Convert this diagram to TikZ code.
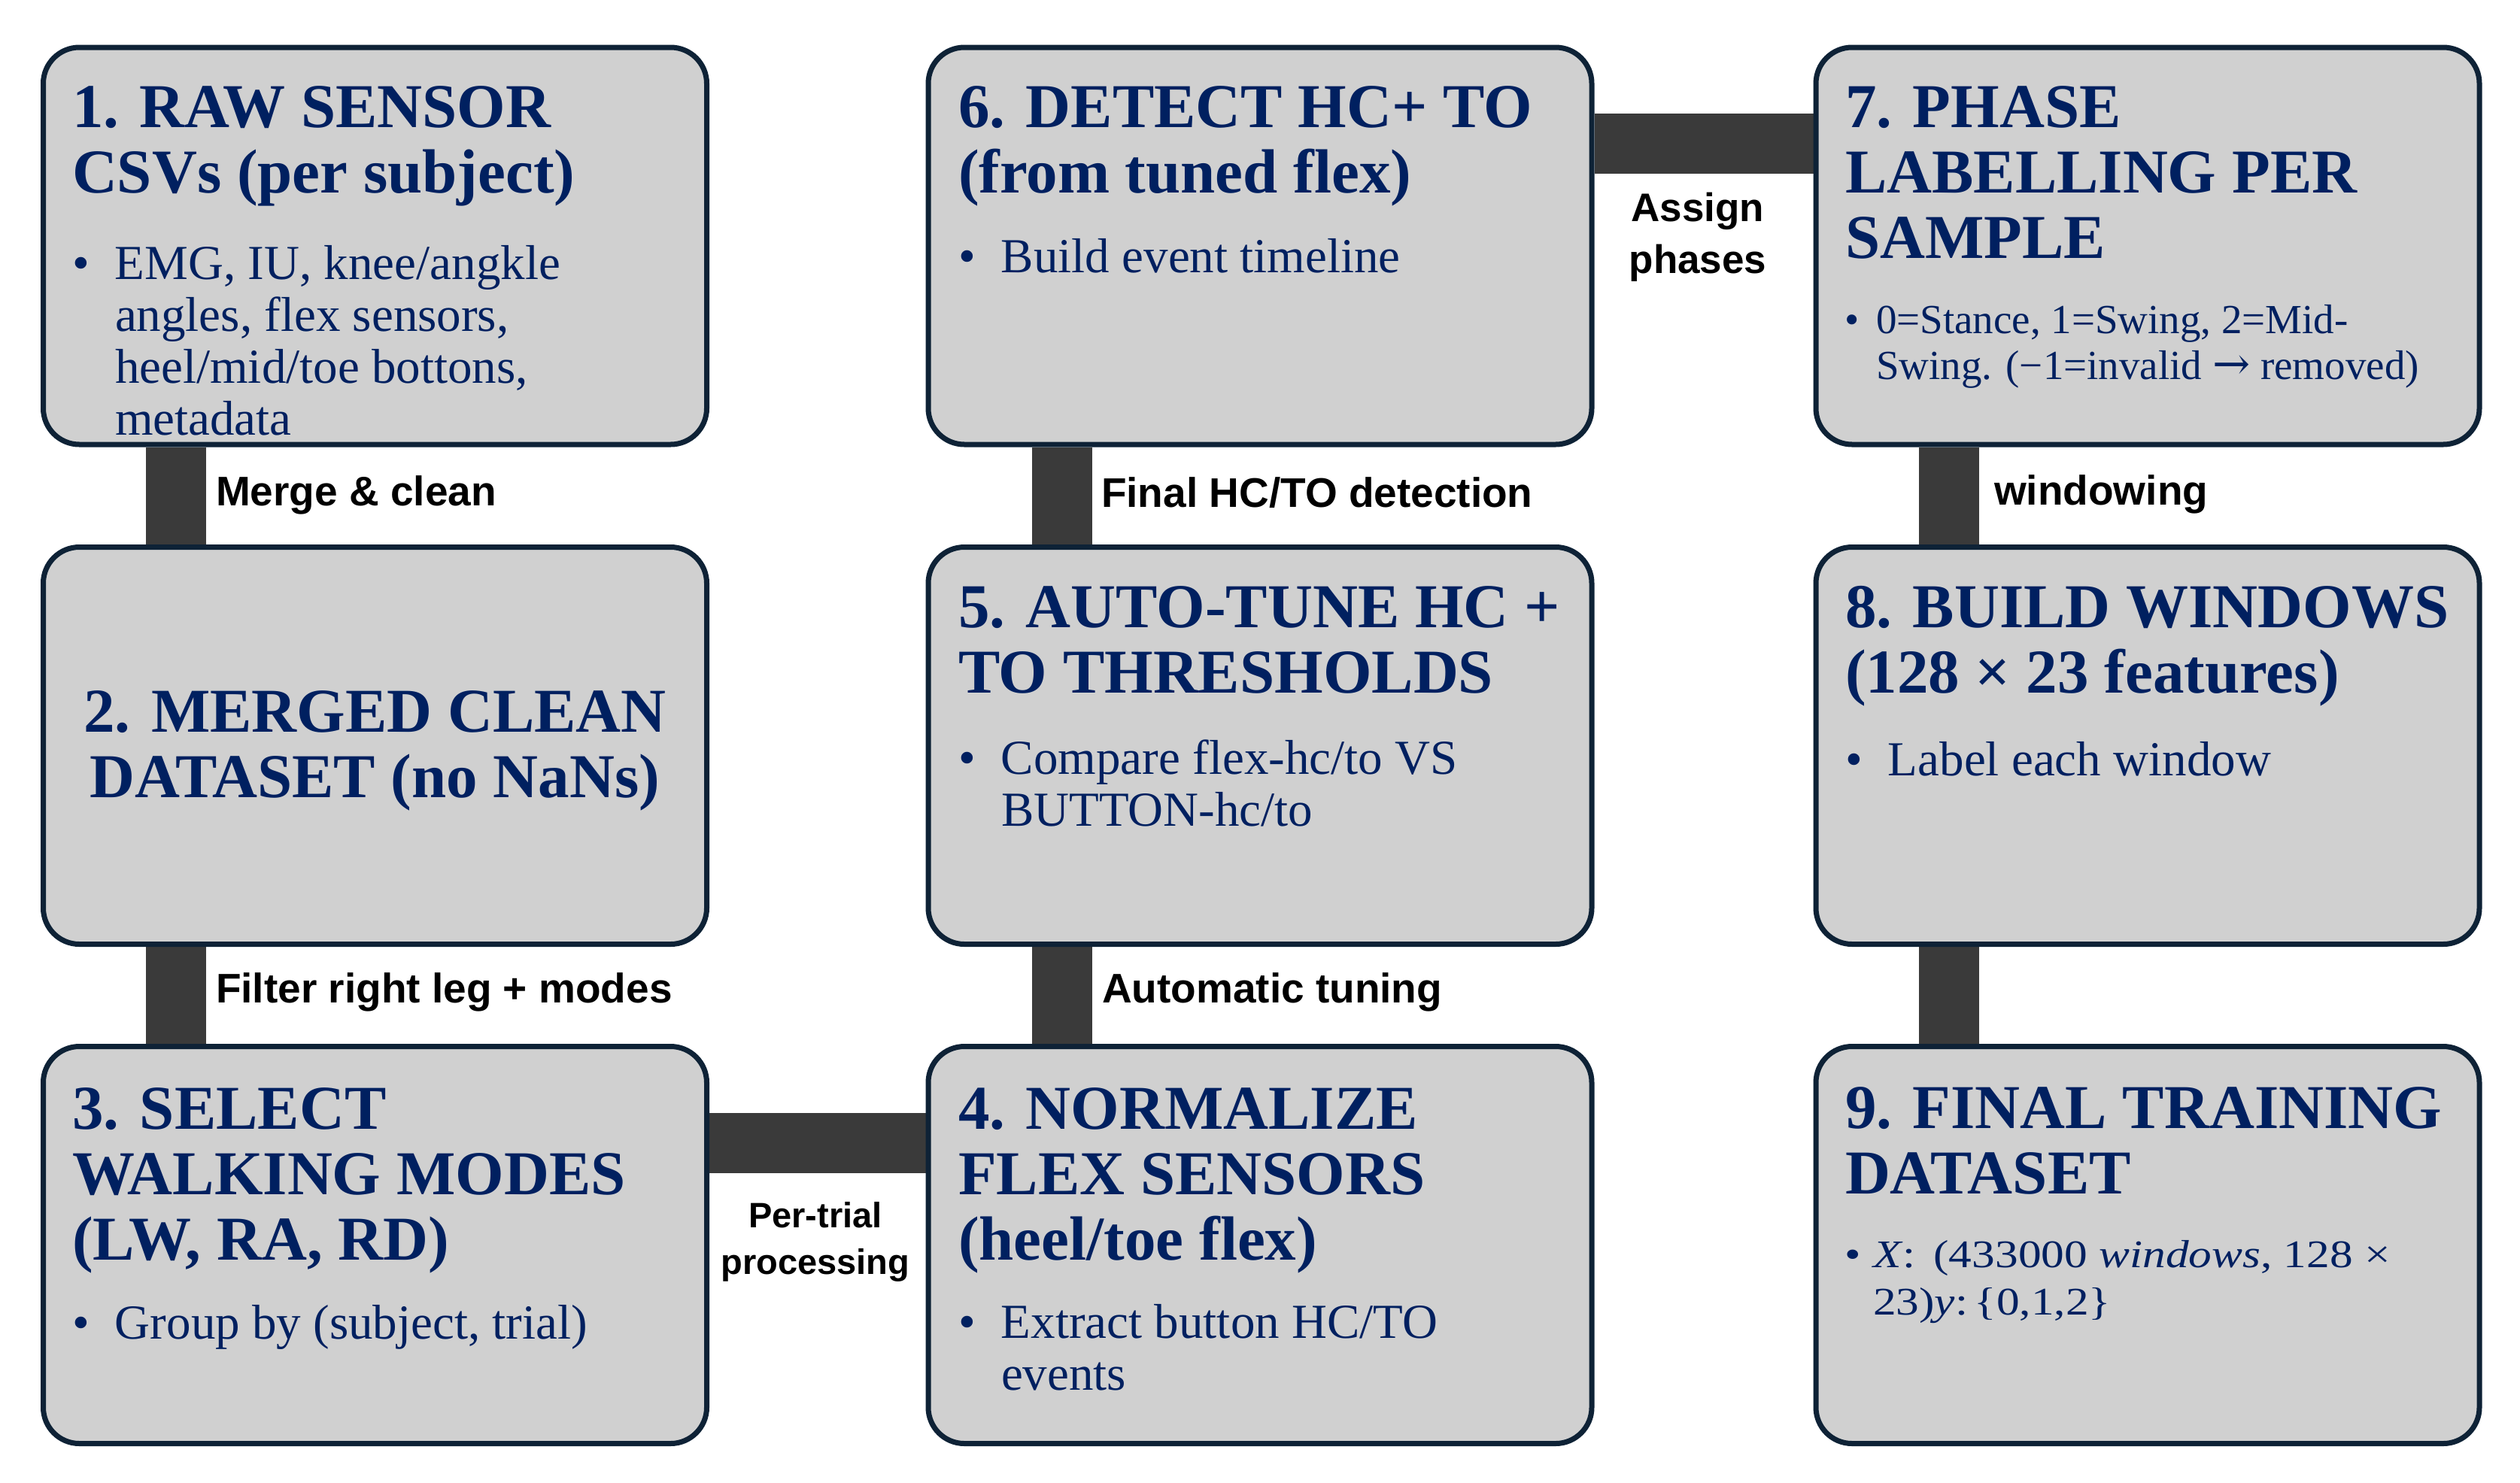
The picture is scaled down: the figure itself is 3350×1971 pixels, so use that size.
\documentclass[tikz,border=0pt]{standalone}
\usepackage{fontspec}
\setmainfont{Liberation Serif}
\newfontfamily\lblfont{Liberation Sans}
\newfontfamily\arrowfont{DejaVu Serif}
\newfontfamily\mathish[FakeStretch=1.18]{Liberation Serif}
\usetikzlibrary{backgrounds}
\definecolor{navy}{HTML}{002060}
\definecolor{edgec}{HTML}{0E2236}
\definecolor{boxfill}{HTML}{D0D0D0}
\definecolor{barc}{HTML}{3A3A3A}
\newcommand{\ttlf}{\fontsize{83}{87}\selectfont\bfseries}
\newcommand{\bdyf}{\fontsize{65}{69}\selectfont}
\newcommand{\lblf}{\lblfont\bfseries\fontsize{55}{62}\selectfont}
\newcommand{\titleblock}[1]{\begin{minipage}[t]{880pt}\raggedright\ttlf #1\end{minipage}}
\newcommand{\bulletblock}[3]{\begin{minipage}[t]{860pt}#1\makebox[#2][l]{•}\begin{minipage}[t]{800pt}#3\end{minipage}\end{minipage}}
\tikzset{
  stage/.style={draw=edgec, line width=7pt, fill=boxfill, rounded corners=48pt,
    minimum width=882pt, minimum height=528pt, inner sep=0pt},
  txt/.style={anchor=base west, inner sep=0pt, outer sep=0pt, text=navy},
  lbl/.style={anchor=base west, inner sep=0pt, outer sep=0pt, text=black, font=\lblf},
  bar/.style={line width=80pt, draw=barc}
}
\begin{document}
\begin{tikzpicture}[x=1pt,y=-1pt]
\useasboundingbox (0,0) rectangle (3350,1971);
% boxes
\node[stage] (b1) at (498.5,327) {};
\node[stage] (b2) at (498.5,991.5) {};
\node[stage] (b3) at (498.5,1655.5) {};
\node[stage] (b4) at (1675,1655.5) {};
\node[stage] (b5) at (1675,991.5) {};
\node[stage] (b6) at (1675,327) {};
\node[stage] (b7) at (2855,327) {};
\node[stage] (b8) at (2855,991.5) {};
\node[stage] (b9) at (2855,1655.5) {};
% box texts
\node[txt] (t1) at (96,169) {\titleblock{1. RAW SENSOR\\CSVs (per subject)}};
\node[txt] (p1) at (96,371) {\bulletblock{\bdyf}{57pt}{\raggedright\bdyf EMG, IU, knee/angkle\\angles, flex sensors,\\heel/mid/toe bottons,\\metadata}};
\node[txt, anchor=base] (t2) at (498.5,973) {\begin{minipage}[t]{880pt}\centering\ttlf 2. MERGED CLEAN\\DATASET (no NaNs)\end{minipage}};
\node[txt] (t3) at (96,1501) {\titleblock{3. SELECT\\WALKING MODES\\(LW, RA, RD)}};
\node[txt] (p3) at (96,1780) {\bulletblock{\bdyf}{57pt}{\raggedright\bdyf Group by (subject, trial)}};
\node[txt] (t4) at (1274,1501) {\titleblock{4. NORMALIZE\\FLEX SENSORS\\(heel/toe flex)}};
\node[txt] (p4) at (1274,1779) {\bulletblock{\bdyf}{57pt}{\raggedright\bdyf Extract button HC/TO\\events}};
\node[txt] (t5) at (1274,834) {\titleblock{5. AUTO-TUNE HC +\\TO THRESHOLDS}};
\node[txt] (p5) at (1274,1029) {\bulletblock{\bdyf}{57pt}{\raggedright\bdyf Compare flex-hc/to VS\\BUTTON-hc/to}};
\node[txt] (t6) at (1274,169) {\titleblock{6. DETECT HC+ TO\\(from tuned flex)}};
\node[txt] (p6) at (1274,362) {\bulletblock{\bdyf}{57pt}{\raggedright\bdyf Build event timeline}};
\node[txt] (t7) at (2453,169) {\titleblock{7. PHASE\\LABELLING PER\\SAMPLE}};
\node[txt] (p7) at (2452,443) {\bulletblock{\fontsize{55}{61}\selectfont}{42pt}{\raggedright\fontsize{55}{61}\selectfont 0=Stance, 1=Swing, 2=Mid-\\Swing. (−1=invalid {\arrowfont\fontsize{60}{61}\selectfont →} removed)}};
\node[txt] (t8) at (2453,834) {\titleblock{8. BUILD WINDOWS\\(128 × 23 features)}};
\node[txt] (p8) at (2453,1031) {\bulletblock{\bdyf}{57pt}{\raggedright\bdyf Label each window}};
\node[txt] (t9) at (2453,1500) {\titleblock{9. FINAL TRAINING\\DATASET}};
\node[txt] (p9) at (2452,1685) {\bulletblock{\mathish\fontsize{52}{63}\selectfont}{38pt}{\raggedright\mathish\fontsize{52}{63}\selectfont \textit{X}:\, (433000 \textit{windows}, 128 ×\\23)\textit{y}:\,\{0,1,2\}}};
% connector labels
\node[lbl] (l12) at (287,672) {Merge \& clean};
\node[lbl] (l23) at (287,1333) {Filter right leg + modes};
\node[lbl, anchor=base] (l34) at (1084,1632) {\begin{minipage}[t]{320pt}\centering\lblfont\bfseries\fontsize{47}{62}\selectfont Per-trial\\processing\end{minipage}};
\node[lbl] (l45) at (1465,1333) {Automatic tuning};
\node[lbl] (l56) at (1464,674) {Final HC/TO detection};
\node[lbl, anchor=base] (l67) at (2257,294) {\begin{minipage}[t]{300pt}\centering\lblfont\bfseries\fontsize{53}{69}\selectfont Assign\\phases\end{minipage}};
\node[lbl] (l78) at (2651,671) {windowing};
% connectors
\begin{scope}[on background layer]
\fill[white] (0,0) rectangle (3350,1971);
\draw[bar] ([xshift=-265pt]b1.south) -- ([xshift=-265pt]b2.north);
\draw[bar] ([xshift=-265pt]b2.south) -- ([xshift=-265pt]b3.north);
\draw[bar] ([yshift=136pt]b3.east) -- ([yshift=136pt]b4.west);
\draw[bar] ([xshift=-263pt]b4.north) -- ([xshift=-263pt]b5.south);
\draw[bar] ([xshift=-263pt]b5.north) -- ([xshift=-263pt]b6.south);
\draw[bar] ([yshift=136pt]b6.east) -- ([yshift=136pt]b7.west);
\draw[bar] ([xshift=-264pt]b7.south) -- ([xshift=-264pt]b8.north);
\draw[bar] ([xshift=-264pt]b8.south) -- ([xshift=-264pt]b9.north);
\end{scope}
\end{tikzpicture}
\end{document}
